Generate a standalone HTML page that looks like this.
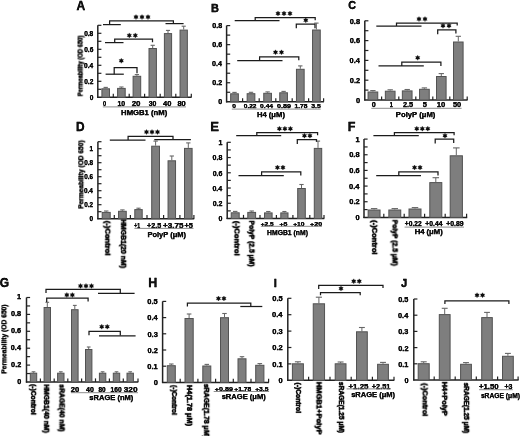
<!DOCTYPE html><html><head><meta charset="utf-8"><style>html,body{margin:0;padding:0;background:#fff;}text{filter:url(#bd);}#w{filter:grayscale(1);width:520px;height:436px;overflow:hidden;}svg{display:block;font-family:"Liberation Sans",sans-serif;font-weight:bold;fill:#111;}</style></head><body>
<div id="w">
<svg width="520" height="436" viewBox="0 0 520 436">
<defs><filter id="bd" x="-10%" y="-30%" width="120%" height="160%" color-interpolation-filters="sRGB"><feComponentTransfer><feFuncA type="linear" slope="1.25"/></feComponentTransfer></filter></defs>
<rect width="520" height="436" fill="#fff"/>
<line x1="97.8" y1="25.3" x2="97.8" y2="97.9" stroke="#222" stroke-width="1.5"/>
<line x1="97.2" y1="97.3" x2="191.6" y2="97.3" stroke="#222" stroke-width="1.5"/>
<line x1="97.8" y1="89.3" x2="101.4" y2="89.3" stroke="#222" stroke-width="1.2"/>
<line x1="97.8" y1="81.3" x2="101.4" y2="81.3" stroke="#222" stroke-width="1.2"/>
<line x1="97.8" y1="73.3" x2="101.4" y2="73.3" stroke="#222" stroke-width="1.2"/>
<line x1="97.8" y1="65.3" x2="101.4" y2="65.3" stroke="#222" stroke-width="1.2"/>
<line x1="97.8" y1="57.3" x2="101.4" y2="57.3" stroke="#222" stroke-width="1.2"/>
<line x1="97.8" y1="49.3" x2="101.4" y2="49.3" stroke="#222" stroke-width="1.2"/>
<line x1="97.8" y1="41.3" x2="101.4" y2="41.3" stroke="#222" stroke-width="1.2"/>
<line x1="97.8" y1="33.3" x2="101.4" y2="33.3" stroke="#222" stroke-width="1.2"/>
<line x1="97.8" y1="25.3" x2="101.4" y2="25.3" stroke="#222" stroke-width="1.2"/>
<line x1="113.3" y1="97.3" x2="113.3" y2="93.7" stroke="#222" stroke-width="1.2"/>
<line x1="129.2" y1="97.3" x2="129.2" y2="93.7" stroke="#222" stroke-width="1.2"/>
<line x1="144.6" y1="97.3" x2="144.6" y2="93.7" stroke="#222" stroke-width="1.2"/>
<line x1="160.2" y1="97.3" x2="160.2" y2="93.7" stroke="#222" stroke-width="1.2"/>
<line x1="175.8" y1="97.3" x2="175.8" y2="93.7" stroke="#222" stroke-width="1.2"/>
<line x1="191.3" y1="97.3" x2="191.3" y2="93.7" stroke="#222" stroke-width="1.2"/>
<text x="89.7" y="99.55" font-size="6.3" text-anchor="start" stroke="#111" stroke-width="0.25" textLength="3.64" lengthAdjust="spacingAndGlyphs">0</text>
<text x="84.23" y="83.55" font-size="6.3" text-anchor="start" stroke="#111" stroke-width="0.25" textLength="9.11" lengthAdjust="spacingAndGlyphs">0.2</text>
<text x="84" y="67.55" font-size="6.3" text-anchor="start" stroke="#111" stroke-width="0.25" textLength="9.11" lengthAdjust="spacingAndGlyphs">0.4</text>
<text x="84.2" y="51.55" font-size="6.3" text-anchor="start" stroke="#111" stroke-width="0.25" textLength="9.11" lengthAdjust="spacingAndGlyphs">0.6</text>
<text x="84.16" y="35.55" font-size="6.3" text-anchor="start" stroke="#111" stroke-width="0.25" textLength="9.11" lengthAdjust="spacingAndGlyphs">0.8</text>
<rect x="101.9" y="88.8" width="7.6" height="8.5" fill="#7e7e7e" stroke="#525252" stroke-width="1"/>
<line x1="105.7" y1="88.3" x2="105.7" y2="87.4" stroke="#666" stroke-width="1.0"/>
<line x1="103.55" y1="87.4" x2="107.85" y2="87.4" stroke="#666" stroke-width="1.1"/>
<rect x="117.6" y="88.4" width="7.6" height="8.9" fill="#7e7e7e" stroke="#525252" stroke-width="1"/>
<line x1="121.4" y1="87.9" x2="121.4" y2="87" stroke="#666" stroke-width="1.0"/>
<line x1="119.25" y1="87" x2="123.55" y2="87" stroke="#666" stroke-width="1.1"/>
<rect x="133.1" y="76.3" width="7.6" height="21" fill="#7e7e7e" stroke="#525252" stroke-width="1"/>
<line x1="136.9" y1="75.8" x2="136.9" y2="74.6" stroke="#666" stroke-width="1.0"/>
<line x1="134.75" y1="74.6" x2="139.05" y2="74.6" stroke="#666" stroke-width="1.1"/>
<rect x="149" y="48.5" width="7.4" height="48.8" fill="#7e7e7e" stroke="#525252" stroke-width="1"/>
<line x1="152.7" y1="48" x2="152.7" y2="45.3" stroke="#666" stroke-width="1.0"/>
<line x1="150.6" y1="45.3" x2="154.8" y2="45.3" stroke="#666" stroke-width="1.1"/>
<rect x="164.4" y="33.6" width="7.2" height="63.7" fill="#7e7e7e" stroke="#525252" stroke-width="1"/>
<line x1="168" y1="33.1" x2="168" y2="30.4" stroke="#666" stroke-width="1.0"/>
<line x1="165.95" y1="30.4" x2="170.05" y2="30.4" stroke="#666" stroke-width="1.1"/>
<rect x="180.05" y="30.1" width="7.3" height="67.2" fill="#7e7e7e" stroke="#525252" stroke-width="1"/>
<line x1="183.7" y1="29.6" x2="183.7" y2="26.2" stroke="#666" stroke-width="1.0"/>
<line x1="181.62" y1="26.2" x2="185.77" y2="26.2" stroke="#666" stroke-width="1.1"/>
<text x="102.9" y="106.22" font-size="7.21" text-anchor="start" stroke="#111" stroke-width="0.25" textLength="3.1" lengthAdjust="spacingAndGlyphs">0</text>
<text x="117.38" y="106.22" font-size="7.21" text-anchor="start" stroke="#111" stroke-width="0.25" textLength="7.69" lengthAdjust="spacingAndGlyphs">10</text>
<text x="131.65" y="106.22" font-size="7.21" text-anchor="start" stroke="#111" stroke-width="0.25" textLength="8.87" lengthAdjust="spacingAndGlyphs">20</text>
<text x="148.65" y="106.22" font-size="7.21" text-anchor="start" stroke="#111" stroke-width="0.25" textLength="7.72" lengthAdjust="spacingAndGlyphs">30</text>
<text x="163.01" y="106.22" font-size="7.21" text-anchor="start" stroke="#111" stroke-width="0.25" textLength="8.38" lengthAdjust="spacingAndGlyphs">40</text>
<text x="177.4" y="106.22" font-size="7.21" text-anchor="start" stroke="#111" stroke-width="0.25" textLength="8.4" lengthAdjust="spacingAndGlyphs">80</text>
<line x1="102.8" y1="106.9" x2="186" y2="106.9" stroke="#808080" stroke-width="0.9"/>
<text x="121.13" y="114.92" font-size="7.21" text-anchor="start" stroke="#111" stroke-width="0.25" textLength="46.13" lengthAdjust="spacingAndGlyphs">HMGB1 (nM)</text>
<text x="82.6" y="96.06" font-size="6.27" text-anchor="start" stroke="#111" stroke-width="0.25" transform="rotate(-90 82.6 96.06)" textLength="60.61" lengthAdjust="spacingAndGlyphs">Permeability (OD 650)</text>
<text x="76.42" y="9.9" font-size="12.03" text-anchor="start" stroke="#111" stroke-width="0.3">A</text>
<line x1="105.6" y1="74.2" x2="123.8" y2="74.2" stroke="#1b1b1b" stroke-width="1.25"/>
<polyline points="114.2,74.2 114.2,67.5 137,67.5 137,73.3" fill="none" stroke="#1b1b1b" stroke-width="1.25"/>
<polygon points="121.3,58.3 122.02,59.54 123.47,59.55 122.75,60.8 123.47,62.05 122.02,62.06 121.3,63.3 120.58,62.06 119.13,62.05 119.85,60.8 119.13,59.55 120.58,59.54" fill="#0c0c0c" stroke="#0c0c0c" stroke-width="0.3" stroke-linejoin="round"/>
<line x1="105" y1="42.6" x2="123.5" y2="42.6" stroke="#1b1b1b" stroke-width="1.25"/>
<polyline points="114.7,42.6 114.7,39.2 152.5,39.2 152.5,42.3" fill="none" stroke="#1b1b1b" stroke-width="1.25"/>
<polygon points="129.3,32.9 130.03,34.14 131.47,34.15 130.75,35.4 131.47,36.65 130.03,36.66 129.3,37.9 128.58,36.66 127.13,36.65 127.85,35.4 127.13,34.15 128.58,34.14" fill="#0c0c0c" stroke="#0c0c0c" stroke-width="0.3" stroke-linejoin="round"/>
<polygon points="135.3,32.9 136.03,34.14 137.47,34.15 136.75,35.4 137.47,36.65 136.03,36.66 135.3,37.9 134.58,36.66 133.13,36.65 133.85,35.4 133.13,34.15 134.58,34.14" fill="#0c0c0c" stroke="#0c0c0c" stroke-width="0.3" stroke-linejoin="round"/>
<line x1="103" y1="24.6" x2="120.8" y2="24.6" stroke="#1b1b1b" stroke-width="1.25"/>
<polyline points="109.6,24.6 109.6,20.9 173.4,20.9 173.4,23.6" fill="none" stroke="#1b1b1b" stroke-width="1.25"/>
<line x1="165.5" y1="23.6" x2="183.6" y2="23.6" stroke="#1b1b1b" stroke-width="1.25"/>
<polygon points="136,14.6 136.72,15.84 138.17,15.85 137.45,17.1 138.17,18.35 136.72,18.36 136,19.6 135.28,18.36 133.83,18.35 134.55,17.1 133.83,15.85 135.28,15.84" fill="#0c0c0c" stroke="#0c0c0c" stroke-width="0.3" stroke-linejoin="round"/>
<polygon points="142,14.6 142.72,15.84 144.17,15.85 143.45,17.1 144.17,18.35 142.72,18.36 142,19.6 141.28,18.36 139.83,18.35 140.55,17.1 139.83,15.85 141.28,15.84" fill="#0c0c0c" stroke="#0c0c0c" stroke-width="0.3" stroke-linejoin="round"/>
<polygon points="148,14.6 148.72,15.84 150.17,15.85 149.45,17.1 150.17,18.35 148.72,18.36 148,19.6 147.28,18.36 145.83,18.35 146.55,17.1 145.83,15.85 147.28,15.84" fill="#0c0c0c" stroke="#0c0c0c" stroke-width="0.3" stroke-linejoin="round"/>
<line x1="226.6" y1="25.6" x2="226.6" y2="102.4" stroke="#222" stroke-width="1.5"/>
<line x1="226" y1="101.8" x2="323.9" y2="101.8" stroke="#222" stroke-width="1.5"/>
<line x1="226.6" y1="92.27" x2="230.2" y2="92.27" stroke="#222" stroke-width="1.2"/>
<line x1="226.6" y1="82.75" x2="230.2" y2="82.75" stroke="#222" stroke-width="1.2"/>
<line x1="226.6" y1="73.22" x2="230.2" y2="73.22" stroke="#222" stroke-width="1.2"/>
<line x1="226.6" y1="63.7" x2="230.2" y2="63.7" stroke="#222" stroke-width="1.2"/>
<line x1="226.6" y1="54.17" x2="230.2" y2="54.17" stroke="#222" stroke-width="1.2"/>
<line x1="226.6" y1="44.65" x2="230.2" y2="44.65" stroke="#222" stroke-width="1.2"/>
<line x1="226.6" y1="35.12" x2="230.2" y2="35.12" stroke="#222" stroke-width="1.2"/>
<line x1="226.6" y1="25.6" x2="230.2" y2="25.6" stroke="#222" stroke-width="1.2"/>
<line x1="242.6" y1="101.8" x2="242.6" y2="98.2" stroke="#222" stroke-width="1.2"/>
<line x1="259.2" y1="101.8" x2="259.2" y2="98.2" stroke="#222" stroke-width="1.2"/>
<line x1="275.8" y1="101.8" x2="275.8" y2="98.2" stroke="#222" stroke-width="1.2"/>
<line x1="292.2" y1="101.8" x2="292.2" y2="98.2" stroke="#222" stroke-width="1.2"/>
<line x1="308.6" y1="101.8" x2="308.6" y2="98.2" stroke="#222" stroke-width="1.2"/>
<line x1="323.6" y1="101.8" x2="323.6" y2="98.2" stroke="#222" stroke-width="1.2"/>
<text x="218.23" y="104.34" font-size="6.7" text-anchor="start" stroke="#111" stroke-width="0.25" textLength="3.94" lengthAdjust="spacingAndGlyphs">0</text>
<text x="212.31" y="85.3" font-size="6.7" text-anchor="start" stroke="#111" stroke-width="0.25" textLength="9.85" lengthAdjust="spacingAndGlyphs">0.2</text>
<text x="212.06" y="66.24" font-size="6.7" text-anchor="start" stroke="#111" stroke-width="0.25" textLength="9.85" lengthAdjust="spacingAndGlyphs">0.4</text>
<text x="212.28" y="47.2" font-size="6.7" text-anchor="start" stroke="#111" stroke-width="0.25" textLength="9.85" lengthAdjust="spacingAndGlyphs">0.6</text>
<text x="212.24" y="28.14" font-size="6.7" text-anchor="start" stroke="#111" stroke-width="0.25" textLength="9.85" lengthAdjust="spacingAndGlyphs">0.8</text>
<rect x="230.65" y="93.8" width="7.7" height="8" fill="#7e7e7e" stroke="#525252" stroke-width="1"/>
<line x1="234.5" y1="93.3" x2="234.5" y2="92.4" stroke="#666" stroke-width="1.0"/>
<line x1="232.32" y1="92.4" x2="236.68" y2="92.4" stroke="#666" stroke-width="1.1"/>
<rect x="247.15" y="93.7" width="7.7" height="8.1" fill="#7e7e7e" stroke="#525252" stroke-width="1"/>
<line x1="251" y1="93.2" x2="251" y2="92.3" stroke="#666" stroke-width="1.0"/>
<line x1="248.82" y1="92.3" x2="253.18" y2="92.3" stroke="#666" stroke-width="1.1"/>
<rect x="263.75" y="93.3" width="7.7" height="8.5" fill="#7e7e7e" stroke="#525252" stroke-width="1"/>
<line x1="267.6" y1="92.8" x2="267.6" y2="91.9" stroke="#666" stroke-width="1.0"/>
<line x1="265.43" y1="91.9" x2="269.78" y2="91.9" stroke="#666" stroke-width="1.1"/>
<rect x="279.75" y="92.8" width="7.7" height="9" fill="#7e7e7e" stroke="#525252" stroke-width="1"/>
<line x1="283.6" y1="92.3" x2="283.6" y2="91.4" stroke="#666" stroke-width="1.0"/>
<line x1="281.43" y1="91.4" x2="285.78" y2="91.4" stroke="#666" stroke-width="1.1"/>
<rect x="296.45" y="69.3" width="7.7" height="32.5" fill="#7e7e7e" stroke="#525252" stroke-width="1"/>
<line x1="300.3" y1="68.8" x2="300.3" y2="65.9" stroke="#666" stroke-width="1.0"/>
<line x1="298.12" y1="65.9" x2="302.48" y2="65.9" stroke="#666" stroke-width="1.1"/>
<rect x="312.55" y="30" width="7.7" height="71.8" fill="#7e7e7e" stroke="#525252" stroke-width="1"/>
<line x1="316.4" y1="29.5" x2="316.4" y2="23.1" stroke="#666" stroke-width="1.0"/>
<line x1="314.22" y1="23.1" x2="318.57" y2="23.1" stroke="#666" stroke-width="1.1"/>
<text x="232.16" y="108.42" font-size="6.07" text-anchor="start" stroke="#111" stroke-width="0.25" textLength="3.69" lengthAdjust="spacingAndGlyphs">0</text>
<text x="243.76" y="108.42" font-size="6.07" text-anchor="start" stroke="#111" stroke-width="0.25" textLength="12.78" lengthAdjust="spacingAndGlyphs">0.22</text>
<text x="260.06" y="108.42" font-size="6.07" text-anchor="start" stroke="#111" stroke-width="0.25" textLength="13.06" lengthAdjust="spacingAndGlyphs">0.44</text>
<text x="277.14" y="108.42" font-size="6.07" text-anchor="start" stroke="#111" stroke-width="0.25" textLength="14" lengthAdjust="spacingAndGlyphs">0.89</text>
<text x="294.49" y="108.42" font-size="6.07" text-anchor="start" stroke="#111" stroke-width="0.25" textLength="12.99" lengthAdjust="spacingAndGlyphs">1.78</text>
<text x="311.15" y="108.42" font-size="6.07" text-anchor="start" stroke="#111" stroke-width="0.25" textLength="9.6" lengthAdjust="spacingAndGlyphs">3.5</text>
<line x1="231.8" y1="109.1" x2="320.7" y2="109.1" stroke="#808080" stroke-width="0.9"/>
<text x="256.93" y="116.92" font-size="7.21" text-anchor="start" stroke="#111" stroke-width="0.25" textLength="28.01" lengthAdjust="spacingAndGlyphs">H4 (μM)</text>
<text x="211.02" y="12.2" font-size="11.01" text-anchor="start" stroke="#111" stroke-width="0.3">B</text>
<line x1="237.2" y1="60.5" x2="282.5" y2="60.5" stroke="#1b1b1b" stroke-width="1.25"/>
<polyline points="259.6,60.5 259.6,56.8 298.8,56.8 298.8,60.2" fill="none" stroke="#1b1b1b" stroke-width="1.25"/>
<polygon points="275.5,49.8 276.23,51.04 277.67,51.05 276.95,52.3 277.67,53.55 276.23,53.56 275.5,54.8 274.77,53.56 273.33,53.55 274.05,52.3 273.33,51.05 274.77,51.04" fill="#0c0c0c" stroke="#0c0c0c" stroke-width="0.3" stroke-linejoin="round"/>
<polygon points="281.5,49.8 282.23,51.04 283.67,51.05 282.95,52.3 283.67,53.55 282.23,53.56 281.5,54.8 280.77,53.56 279.33,53.55 280.05,52.3 279.33,51.05 280.77,51.04" fill="#0c0c0c" stroke="#0c0c0c" stroke-width="0.3" stroke-linejoin="round"/>
<line x1="234.7" y1="20.6" x2="279.5" y2="20.6" stroke="#1b1b1b" stroke-width="1.25"/>
<polyline points="255.2,20.6 255.2,17.5 315.2,17.5 315.2,20.2" fill="none" stroke="#1b1b1b" stroke-width="1.25"/>
<polygon points="278,11 278.73,12.24 280.17,12.25 279.45,13.5 280.17,14.75 278.73,14.76 278,16 277.27,14.76 275.83,14.75 276.55,13.5 275.83,12.25 277.27,12.24" fill="#0c0c0c" stroke="#0c0c0c" stroke-width="0.3" stroke-linejoin="round"/>
<polygon points="284,11 284.73,12.24 286.17,12.25 285.45,13.5 286.17,14.75 284.73,14.76 284,16 283.27,14.76 281.83,14.75 282.55,13.5 281.83,12.25 283.27,12.24" fill="#0c0c0c" stroke="#0c0c0c" stroke-width="0.3" stroke-linejoin="round"/>
<polygon points="290,11 290.73,12.24 292.17,12.25 291.45,13.5 292.17,14.75 290.73,14.76 290,16 289.27,14.76 287.83,14.75 288.55,13.5 287.83,12.25 289.27,12.24" fill="#0c0c0c" stroke="#0c0c0c" stroke-width="0.3" stroke-linejoin="round"/>
<polyline points="296.3,28.3 296.3,24.2 315,24.2 315,28.3" fill="none" stroke="#1b1b1b" stroke-width="1.25"/>
<polygon points="305.8,17.8 306.53,19.04 307.97,19.05 307.25,20.3 307.97,21.55 306.53,21.56 305.8,22.8 305.07,21.56 303.63,21.55 304.35,20.3 303.63,19.05 305.07,19.04" fill="#0c0c0c" stroke="#0c0c0c" stroke-width="0.3" stroke-linejoin="round"/>
<line x1="364.8" y1="20.8" x2="364.8" y2="100.6" stroke="#222" stroke-width="1.5"/>
<line x1="364.2" y1="100" x2="467.6" y2="100" stroke="#222" stroke-width="1.5"/>
<line x1="364.8" y1="90.1" x2="368.4" y2="90.1" stroke="#222" stroke-width="1.2"/>
<line x1="364.8" y1="80.2" x2="368.4" y2="80.2" stroke="#222" stroke-width="1.2"/>
<line x1="364.8" y1="70.3" x2="368.4" y2="70.3" stroke="#222" stroke-width="1.2"/>
<line x1="364.8" y1="60.4" x2="368.4" y2="60.4" stroke="#222" stroke-width="1.2"/>
<line x1="364.8" y1="50.5" x2="368.4" y2="50.5" stroke="#222" stroke-width="1.2"/>
<line x1="364.8" y1="40.6" x2="368.4" y2="40.6" stroke="#222" stroke-width="1.2"/>
<line x1="364.8" y1="30.7" x2="368.4" y2="30.7" stroke="#222" stroke-width="1.2"/>
<line x1="364.8" y1="20.8" x2="368.4" y2="20.8" stroke="#222" stroke-width="1.2"/>
<line x1="381.6" y1="100" x2="381.6" y2="96.4" stroke="#222" stroke-width="1.2"/>
<line x1="398.8" y1="100" x2="398.8" y2="96.4" stroke="#222" stroke-width="1.2"/>
<line x1="415.8" y1="100" x2="415.8" y2="96.4" stroke="#222" stroke-width="1.2"/>
<line x1="432.8" y1="100" x2="432.8" y2="96.4" stroke="#222" stroke-width="1.2"/>
<line x1="449.8" y1="100" x2="449.8" y2="96.4" stroke="#222" stroke-width="1.2"/>
<line x1="467.2" y1="100" x2="467.2" y2="96.4" stroke="#222" stroke-width="1.2"/>
<text x="355.97" y="102.75" font-size="6.7" text-anchor="start" stroke="#111" stroke-width="0.25" textLength="4.11" lengthAdjust="spacingAndGlyphs">0</text>
<text x="349.8" y="82.95" font-size="6.7" text-anchor="start" stroke="#111" stroke-width="0.25" textLength="10.27" lengthAdjust="spacingAndGlyphs">0.2</text>
<text x="349.54" y="63.14" font-size="6.7" text-anchor="start" stroke="#111" stroke-width="0.25" textLength="10.27" lengthAdjust="spacingAndGlyphs">0.4</text>
<text x="349.77" y="43.34" font-size="6.7" text-anchor="start" stroke="#111" stroke-width="0.25" textLength="10.27" lengthAdjust="spacingAndGlyphs">0.6</text>
<text x="349.73" y="23.54" font-size="6.7" text-anchor="start" stroke="#111" stroke-width="0.25" textLength="10.27" lengthAdjust="spacingAndGlyphs">0.8</text>
<rect x="368.05" y="92" width="9.7" height="8" fill="#7e7e7e" stroke="#525252" stroke-width="1"/>
<line x1="372.9" y1="91.5" x2="372.9" y2="90.6" stroke="#666" stroke-width="1.0"/>
<line x1="370.22" y1="90.6" x2="375.57" y2="90.6" stroke="#666" stroke-width="1.1"/>
<rect x="385.35" y="91.2" width="9.7" height="8.8" fill="#7e7e7e" stroke="#525252" stroke-width="1"/>
<line x1="390.2" y1="90.7" x2="390.2" y2="89.8" stroke="#666" stroke-width="1.0"/>
<line x1="387.52" y1="89.8" x2="392.88" y2="89.8" stroke="#666" stroke-width="1.1"/>
<rect x="402.35" y="90.9" width="9.7" height="9.1" fill="#7e7e7e" stroke="#525252" stroke-width="1"/>
<line x1="407.2" y1="90.4" x2="407.2" y2="89.5" stroke="#666" stroke-width="1.0"/>
<line x1="404.52" y1="89.5" x2="409.88" y2="89.5" stroke="#666" stroke-width="1.1"/>
<rect x="419.55" y="89.3" width="9.7" height="10.7" fill="#7e7e7e" stroke="#525252" stroke-width="1"/>
<line x1="424.4" y1="88.8" x2="424.4" y2="87.9" stroke="#666" stroke-width="1.0"/>
<line x1="421.72" y1="87.9" x2="427.07" y2="87.9" stroke="#666" stroke-width="1.1"/>
<rect x="436.5" y="76.5" width="9.6" height="23.5" fill="#7e7e7e" stroke="#525252" stroke-width="1"/>
<line x1="441.3" y1="76" x2="441.3" y2="73.6" stroke="#666" stroke-width="1.0"/>
<line x1="438.65" y1="73.6" x2="443.95" y2="73.6" stroke="#666" stroke-width="1.1"/>
<rect x="453.5" y="42" width="9.6" height="58" fill="#7e7e7e" stroke="#525252" stroke-width="1"/>
<line x1="458.3" y1="41.5" x2="458.3" y2="36.3" stroke="#666" stroke-width="1.0"/>
<line x1="455.65" y1="36.3" x2="460.95" y2="36.3" stroke="#666" stroke-width="1.1"/>
<text x="371.73" y="107.12" font-size="7.21" text-anchor="start" stroke="#111" stroke-width="0.25" textLength="4.04" lengthAdjust="spacingAndGlyphs">0</text>
<text x="389.67" y="107.12" font-size="7.21" text-anchor="start" stroke="#111" stroke-width="0.25" textLength="3.05" lengthAdjust="spacingAndGlyphs">1</text>
<text x="402.97" y="107.12" font-size="7.21" text-anchor="start" stroke="#111" stroke-width="0.25" textLength="10.19" lengthAdjust="spacingAndGlyphs">2.5</text>
<text x="422.8" y="107.12" font-size="7.21" text-anchor="start" stroke="#111" stroke-width="0.25" textLength="4.17" lengthAdjust="spacingAndGlyphs">5</text>
<text x="436.82" y="107.12" font-size="7.21" text-anchor="start" stroke="#111" stroke-width="0.25" textLength="8.58" lengthAdjust="spacingAndGlyphs">10</text>
<text x="453" y="107.12" font-size="7.21" text-anchor="start" stroke="#111" stroke-width="0.25" textLength="8.18" lengthAdjust="spacingAndGlyphs">50</text>
<line x1="371.3" y1="108.3" x2="461.6" y2="108.3" stroke="#808080" stroke-width="0.9"/>
<text x="395.83" y="116.62" font-size="7.07" text-anchor="start" stroke="#111" stroke-width="0.25" textLength="39.53" lengthAdjust="spacingAndGlyphs">PolyP (μM)</text>
<text x="348.16" y="9.3" font-size="10.72" text-anchor="start" stroke="#111" stroke-width="0.3">C</text>
<line x1="378.5" y1="65.9" x2="423.8" y2="65.9" stroke="#1b1b1b" stroke-width="1.25"/>
<polyline points="401.8,65.9 401.8,62.2 440.9,62.2 440.9,65.9" fill="none" stroke="#1b1b1b" stroke-width="1.25"/>
<polygon points="417.7,55.3 418.43,56.54 419.87,56.55 419.15,57.8 419.87,59.05 418.43,59.06 417.7,60.3 416.97,59.06 415.53,59.05 416.25,57.8 415.53,56.55 416.97,56.54" fill="#0c0c0c" stroke="#0c0c0c" stroke-width="0.3" stroke-linejoin="round"/>
<line x1="376.3" y1="26.1" x2="421.5" y2="26.1" stroke="#1b1b1b" stroke-width="1.25"/>
<polyline points="396.5,26.1 396.5,23.1 457.2,23.1 457.2,25.6" fill="none" stroke="#1b1b1b" stroke-width="1.25"/>
<polygon points="419,16.6 419.73,17.84 421.17,17.85 420.45,19.1 421.17,20.35 419.73,20.36 419,21.6 418.27,20.36 416.83,20.35 417.55,19.1 416.83,17.85 418.27,17.84" fill="#0c0c0c" stroke="#0c0c0c" stroke-width="0.3" stroke-linejoin="round"/>
<polygon points="425,16.6 425.73,17.84 427.17,17.85 426.45,19.1 427.17,20.35 425.73,20.36 425,21.6 424.27,20.36 422.83,20.35 423.55,19.1 422.83,17.85 424.27,17.84" fill="#0c0c0c" stroke="#0c0c0c" stroke-width="0.3" stroke-linejoin="round"/>
<polyline points="437.7,34.3 437.7,29.9 455.9,29.9 455.9,33.6" fill="none" stroke="#1b1b1b" stroke-width="1.25"/>
<polygon points="443,23.3 443.73,24.54 445.17,24.55 444.45,25.8 445.17,27.05 443.73,27.06 443,28.3 442.27,27.06 440.83,27.05 441.55,25.8 440.83,24.55 442.27,24.54" fill="#0c0c0c" stroke="#0c0c0c" stroke-width="0.3" stroke-linejoin="round"/>
<polygon points="449,23.3 449.73,24.54 451.17,24.55 450.45,25.8 451.17,27.05 449.73,27.06 449,28.3 448.27,27.06 446.83,27.05 447.55,25.8 446.83,24.55 448.27,24.54" fill="#0c0c0c" stroke="#0c0c0c" stroke-width="0.3" stroke-linejoin="round"/>
<line x1="97.9" y1="141.7" x2="97.9" y2="219.3" stroke="#222" stroke-width="1.5"/>
<line x1="97.3" y1="218.7" x2="194.2" y2="218.7" stroke="#222" stroke-width="1.5"/>
<line x1="97.9" y1="211.7" x2="101.5" y2="211.7" stroke="#222" stroke-width="1.2"/>
<line x1="97.9" y1="204.7" x2="101.5" y2="204.7" stroke="#222" stroke-width="1.2"/>
<line x1="97.9" y1="197.7" x2="101.5" y2="197.7" stroke="#222" stroke-width="1.2"/>
<line x1="97.9" y1="190.7" x2="101.5" y2="190.7" stroke="#222" stroke-width="1.2"/>
<line x1="97.9" y1="183.7" x2="101.5" y2="183.7" stroke="#222" stroke-width="1.2"/>
<line x1="97.9" y1="176.7" x2="101.5" y2="176.7" stroke="#222" stroke-width="1.2"/>
<line x1="97.9" y1="169.7" x2="101.5" y2="169.7" stroke="#222" stroke-width="1.2"/>
<line x1="97.9" y1="162.7" x2="101.5" y2="162.7" stroke="#222" stroke-width="1.2"/>
<line x1="97.9" y1="155.7" x2="101.5" y2="155.7" stroke="#222" stroke-width="1.2"/>
<line x1="97.9" y1="148.7" x2="101.5" y2="148.7" stroke="#222" stroke-width="1.2"/>
<line x1="97.9" y1="141.7" x2="101.5" y2="141.7" stroke="#222" stroke-width="1.2"/>
<line x1="114.3" y1="218.7" x2="114.3" y2="215.1" stroke="#222" stroke-width="1.2"/>
<line x1="130.4" y1="218.7" x2="130.4" y2="215.1" stroke="#222" stroke-width="1.2"/>
<line x1="147" y1="218.7" x2="147" y2="215.1" stroke="#222" stroke-width="1.2"/>
<line x1="163.6" y1="218.7" x2="163.6" y2="215.1" stroke="#222" stroke-width="1.2"/>
<line x1="179.9" y1="218.7" x2="179.9" y2="215.1" stroke="#222" stroke-width="1.2"/>
<line x1="193.9" y1="218.7" x2="193.9" y2="215.1" stroke="#222" stroke-width="1.2"/>
<text x="89.58" y="221.12" font-size="7.2" text-anchor="start" stroke="#111" stroke-width="0.25" textLength="3.56" lengthAdjust="spacingAndGlyphs">0</text>
<text x="84.23" y="207.12" font-size="7.2" text-anchor="start" stroke="#111" stroke-width="0.25" textLength="8.9" lengthAdjust="spacingAndGlyphs">0.2</text>
<text x="84.01" y="193.12" font-size="7.2" text-anchor="start" stroke="#111" stroke-width="0.25" textLength="8.9" lengthAdjust="spacingAndGlyphs">0.4</text>
<text x="84.2" y="179.12" font-size="7.2" text-anchor="start" stroke="#111" stroke-width="0.25" textLength="8.9" lengthAdjust="spacingAndGlyphs">0.6</text>
<text x="84.17" y="165.12" font-size="7.2" text-anchor="start" stroke="#111" stroke-width="0.25" textLength="8.9" lengthAdjust="spacingAndGlyphs">0.8</text>
<text x="89.48" y="151.12" font-size="7.2" text-anchor="start" stroke="#111" stroke-width="0.25" textLength="3.56" lengthAdjust="spacingAndGlyphs">1</text>
<rect x="102.2" y="212.4" width="8" height="6.3" fill="#7e7e7e" stroke="#525252" stroke-width="1"/>
<line x1="106.2" y1="211.9" x2="106.2" y2="211" stroke="#666" stroke-width="1.0"/>
<line x1="103.95" y1="211" x2="108.45" y2="211" stroke="#666" stroke-width="1.1"/>
<rect x="118.55" y="211.3" width="7.7" height="7.4" fill="#7e7e7e" stroke="#525252" stroke-width="1"/>
<line x1="122.4" y1="210.8" x2="122.4" y2="209.9" stroke="#666" stroke-width="1.0"/>
<line x1="120.23" y1="209.9" x2="124.58" y2="209.9" stroke="#666" stroke-width="1.1"/>
<rect x="134.8" y="209.6" width="7.4" height="9.1" fill="#7e7e7e" stroke="#525252" stroke-width="1"/>
<line x1="138.5" y1="209.1" x2="138.5" y2="208.2" stroke="#666" stroke-width="1.0"/>
<line x1="136.4" y1="208.2" x2="140.6" y2="208.2" stroke="#666" stroke-width="1.1"/>
<rect x="151.7" y="146.2" width="7.8" height="72.5" fill="#7e7e7e" stroke="#525252" stroke-width="1"/>
<line x1="155.6" y1="145.7" x2="155.6" y2="141.1" stroke="#666" stroke-width="1.0"/>
<line x1="153.4" y1="141.1" x2="157.8" y2="141.1" stroke="#666" stroke-width="1.1"/>
<rect x="168.05" y="160.8" width="7.5" height="57.9" fill="#7e7e7e" stroke="#525252" stroke-width="1"/>
<line x1="171.8" y1="160.3" x2="171.8" y2="156" stroke="#666" stroke-width="1.0"/>
<line x1="169.68" y1="156" x2="173.93" y2="156" stroke="#666" stroke-width="1.1"/>
<rect x="184.5" y="148.4" width="7.6" height="70.3" fill="#7e7e7e" stroke="#525252" stroke-width="1"/>
<line x1="188.3" y1="147.9" x2="188.3" y2="142.9" stroke="#666" stroke-width="1.0"/>
<line x1="186.15" y1="142.9" x2="190.45" y2="142.9" stroke="#666" stroke-width="1.1"/>
<text x="105.5" y="220.82" font-size="7.4" text-anchor="start" stroke="#111" stroke-width="0.4" transform="rotate(90 105.5 220.82)" textLength="34.85" lengthAdjust="spacingAndGlyphs">(-)Control</text>
<text x="120.9" y="219.25" font-size="7.4" text-anchor="start" stroke="#111" stroke-width="0.4" transform="rotate(90 120.9 219.25)" textLength="48.87" lengthAdjust="spacingAndGlyphs">HMGB1(20 nM)</text>
<text x="134.32" y="227.62" font-size="6.64" text-anchor="start" stroke="#111" stroke-width="0.25" textLength="5.89" lengthAdjust="spacingAndGlyphs">+1</text>
<text x="146.94" y="227.62" font-size="6.64" text-anchor="start" stroke="#111" stroke-width="0.25" textLength="14.21" lengthAdjust="spacingAndGlyphs">+2.5</text>
<text x="163" y="227.62" font-size="6.64" text-anchor="start" stroke="#111" stroke-width="0.25" textLength="20.38" lengthAdjust="spacingAndGlyphs">+3.75</text>
<text x="184.43" y="227.62" font-size="6.64" text-anchor="start" stroke="#111" stroke-width="0.25" textLength="8.43" lengthAdjust="spacingAndGlyphs">+5</text>
<line x1="134.4" y1="228.4" x2="193.5" y2="228.4" stroke="#808080" stroke-width="0.9"/>
<text x="147.44" y="237.12" font-size="7.5" text-anchor="start" stroke="#111" stroke-width="0.25" textLength="38.61" lengthAdjust="spacingAndGlyphs">PolyP (μM)</text>
<text x="83" y="208.71" font-size="6.85" text-anchor="start" stroke="#111" stroke-width="0.25" transform="rotate(-90 83 208.71)" textLength="68.39" lengthAdjust="spacingAndGlyphs">Permeability (OD 650)</text>
<text x="76.07" y="131.1" font-size="11.88" text-anchor="start" stroke="#111" stroke-width="0.3">D</text>
<line x1="109.8" y1="140" x2="145.5" y2="140" stroke="#1b1b1b" stroke-width="1.25"/>
<polyline points="128.1,140 128.1,136.3 173,136.3 173,139.4" fill="none" stroke="#1b1b1b" stroke-width="1.25"/>
<line x1="154.3" y1="139.6" x2="190.9" y2="139.6" stroke="#1b1b1b" stroke-width="1.25"/>
<polygon points="146.5,129.5 147.22,130.74 148.67,130.75 147.95,132 148.67,133.25 147.22,133.26 146.5,134.5 145.78,133.26 144.33,133.25 145.05,132 144.33,130.75 145.78,130.74" fill="#0c0c0c" stroke="#0c0c0c" stroke-width="0.3" stroke-linejoin="round"/>
<polygon points="152,129.5 152.72,130.74 154.17,130.75 153.45,132 154.17,133.25 152.72,133.26 152,134.5 151.28,133.26 149.83,133.25 150.55,132 149.83,130.75 151.28,130.74" fill="#0c0c0c" stroke="#0c0c0c" stroke-width="0.3" stroke-linejoin="round"/>
<polygon points="157.5,129.5 158.22,130.74 159.67,130.75 158.95,132 159.67,133.25 158.22,133.26 157.5,134.5 156.78,133.26 155.33,133.25 156.05,132 155.33,130.75 156.78,130.74" fill="#0c0c0c" stroke="#0c0c0c" stroke-width="0.3" stroke-linejoin="round"/>
<line x1="227.2" y1="142.3" x2="227.2" y2="219.1" stroke="#222" stroke-width="1.5"/>
<line x1="226.6" y1="218.5" x2="324.3" y2="218.5" stroke="#222" stroke-width="1.5"/>
<line x1="227.2" y1="210.88" x2="230.8" y2="210.88" stroke="#222" stroke-width="1.2"/>
<line x1="227.2" y1="203.26" x2="230.8" y2="203.26" stroke="#222" stroke-width="1.2"/>
<line x1="227.2" y1="195.64" x2="230.8" y2="195.64" stroke="#222" stroke-width="1.2"/>
<line x1="227.2" y1="188.02" x2="230.8" y2="188.02" stroke="#222" stroke-width="1.2"/>
<line x1="227.2" y1="180.4" x2="230.8" y2="180.4" stroke="#222" stroke-width="1.2"/>
<line x1="227.2" y1="172.78" x2="230.8" y2="172.78" stroke="#222" stroke-width="1.2"/>
<line x1="227.2" y1="165.16" x2="230.8" y2="165.16" stroke="#222" stroke-width="1.2"/>
<line x1="227.2" y1="157.54" x2="230.8" y2="157.54" stroke="#222" stroke-width="1.2"/>
<line x1="227.2" y1="149.92" x2="230.8" y2="149.92" stroke="#222" stroke-width="1.2"/>
<line x1="227.2" y1="142.3" x2="230.8" y2="142.3" stroke="#222" stroke-width="1.2"/>
<line x1="243.5" y1="218.5" x2="243.5" y2="214.9" stroke="#222" stroke-width="1.2"/>
<line x1="260" y1="218.5" x2="260" y2="214.9" stroke="#222" stroke-width="1.2"/>
<line x1="276.4" y1="218.5" x2="276.4" y2="214.9" stroke="#222" stroke-width="1.2"/>
<line x1="292.9" y1="218.5" x2="292.9" y2="214.9" stroke="#222" stroke-width="1.2"/>
<line x1="309.8" y1="218.5" x2="309.8" y2="214.9" stroke="#222" stroke-width="1.2"/>
<line x1="324" y1="218.5" x2="324" y2="214.9" stroke="#222" stroke-width="1.2"/>
<text x="218.57" y="221.23" font-size="6.8" text-anchor="start" stroke="#111" stroke-width="0.25" textLength="3.9" lengthAdjust="spacingAndGlyphs">0</text>
<text x="212.71" y="205.99" font-size="6.8" text-anchor="start" stroke="#111" stroke-width="0.25" textLength="9.74" lengthAdjust="spacingAndGlyphs">0.2</text>
<text x="212.47" y="190.75" font-size="6.8" text-anchor="start" stroke="#111" stroke-width="0.25" textLength="9.74" lengthAdjust="spacingAndGlyphs">0.4</text>
<text x="212.68" y="175.51" font-size="6.8" text-anchor="start" stroke="#111" stroke-width="0.25" textLength="9.74" lengthAdjust="spacingAndGlyphs">0.6</text>
<text x="212.64" y="160.27" font-size="6.8" text-anchor="start" stroke="#111" stroke-width="0.25" textLength="9.74" lengthAdjust="spacingAndGlyphs">0.8</text>
<text x="218.46" y="145.03" font-size="6.8" text-anchor="start" stroke="#111" stroke-width="0.25" textLength="3.9" lengthAdjust="spacingAndGlyphs">1</text>
<rect x="231.2" y="212.8" width="8" height="5.7" fill="#7e7e7e" stroke="#525252" stroke-width="1"/>
<line x1="235.2" y1="212.3" x2="235.2" y2="211.4" stroke="#666" stroke-width="1.0"/>
<line x1="232.95" y1="211.4" x2="237.45" y2="211.4" stroke="#666" stroke-width="1.1"/>
<rect x="247.8" y="212.4" width="7.8" height="6.1" fill="#7e7e7e" stroke="#525252" stroke-width="1"/>
<line x1="251.7" y1="211.9" x2="251.7" y2="211" stroke="#666" stroke-width="1.0"/>
<line x1="249.5" y1="211" x2="253.9" y2="211" stroke="#666" stroke-width="1.1"/>
<rect x="264.5" y="212.9" width="7.6" height="5.6" fill="#7e7e7e" stroke="#525252" stroke-width="1"/>
<line x1="268.3" y1="212.4" x2="268.3" y2="211.5" stroke="#666" stroke-width="1.0"/>
<line x1="266.15" y1="211.5" x2="270.45" y2="211.5" stroke="#666" stroke-width="1.1"/>
<rect x="280.8" y="212.9" width="7.2" height="5.6" fill="#7e7e7e" stroke="#525252" stroke-width="1"/>
<line x1="284.4" y1="212.4" x2="284.4" y2="211.5" stroke="#666" stroke-width="1.0"/>
<line x1="282.35" y1="211.5" x2="286.45" y2="211.5" stroke="#666" stroke-width="1.1"/>
<rect x="297.7" y="188.5" width="7.6" height="30" fill="#7e7e7e" stroke="#525252" stroke-width="1"/>
<line x1="301.5" y1="188" x2="301.5" y2="184.5" stroke="#666" stroke-width="1.0"/>
<line x1="299.35" y1="184.5" x2="303.65" y2="184.5" stroke="#666" stroke-width="1.1"/>
<rect x="314.3" y="148.4" width="7.4" height="70.1" fill="#7e7e7e" stroke="#525252" stroke-width="1"/>
<line x1="318" y1="147.9" x2="318" y2="141.1" stroke="#666" stroke-width="1.0"/>
<line x1="315.9" y1="141.1" x2="320.1" y2="141.1" stroke="#666" stroke-width="1.1"/>
<text x="234.7" y="220.82" font-size="7.4" text-anchor="start" stroke="#111" stroke-width="0.4" transform="rotate(90 234.7 220.82)" textLength="34.85" lengthAdjust="spacingAndGlyphs">(-)Control</text>
<text x="249.6" y="220.76" font-size="7.4" text-anchor="start" stroke="#111" stroke-width="0.4" transform="rotate(90 249.6 220.76)" textLength="45.86" lengthAdjust="spacingAndGlyphs">PolyP (2.5 μM)</text>
<text x="260.76" y="225.72" font-size="5.93" text-anchor="start" stroke="#111" stroke-width="0.25" textLength="12.97" lengthAdjust="spacingAndGlyphs">+2.5</text>
<text x="279.44" y="225.72" font-size="5.93" text-anchor="start" stroke="#111" stroke-width="0.25" textLength="8.01" lengthAdjust="spacingAndGlyphs">+5</text>
<text x="293.16" y="225.72" font-size="5.93" text-anchor="start" stroke="#111" stroke-width="0.25" textLength="11.4" lengthAdjust="spacingAndGlyphs">+10</text>
<text x="310.14" y="225.72" font-size="5.93" text-anchor="start" stroke="#111" stroke-width="0.25" textLength="12.03" lengthAdjust="spacingAndGlyphs">+20</text>
<line x1="260.9" y1="226.3" x2="322" y2="226.3" stroke="#808080" stroke-width="0.9"/>
<text x="267.08" y="235.43" font-size="7.36" text-anchor="start" stroke="#111" stroke-width="0.25" textLength="40.83" lengthAdjust="spacingAndGlyphs">HMGB1 (nM)</text>
<text x="210.17" y="131.1" font-size="13.04" text-anchor="start" stroke="#111" stroke-width="0.3">E</text>
<line x1="238.5" y1="175.6" x2="283.8" y2="175.6" stroke="#1b1b1b" stroke-width="1.25"/>
<polyline points="261.6,175.6 261.6,171.9 300.8,171.9 300.8,175.6" fill="none" stroke="#1b1b1b" stroke-width="1.25"/>
<polygon points="277.45,165 278.18,166.24 279.62,166.25 278.9,167.5 279.62,168.75 278.18,168.76 277.45,170 276.72,168.76 275.28,168.75 276,167.5 275.28,166.25 276.72,166.24" fill="#0c0c0c" stroke="#0c0c0c" stroke-width="0.3" stroke-linejoin="round"/>
<polygon points="282.95,165 283.68,166.24 285.12,166.25 284.4,167.5 285.12,168.75 283.68,168.76 282.95,170 282.22,168.76 280.78,168.75 281.5,167.5 280.78,166.25 282.22,166.24" fill="#0c0c0c" stroke="#0c0c0c" stroke-width="0.3" stroke-linejoin="round"/>
<line x1="236.2" y1="135.6" x2="281.2" y2="135.6" stroke="#1b1b1b" stroke-width="1.25"/>
<polyline points="256.8,135.6 256.8,132.5 317.6,132.5 317.6,135.2" fill="none" stroke="#1b1b1b" stroke-width="1.25"/>
<polygon points="279.4,126.2 280.12,127.44 281.57,127.45 280.85,128.7 281.57,129.95 280.12,129.96 279.4,131.2 278.67,129.96 277.23,129.95 277.95,128.7 277.23,127.45 278.67,127.44" fill="#0c0c0c" stroke="#0c0c0c" stroke-width="0.3" stroke-linejoin="round"/>
<polygon points="284.9,126.2 285.62,127.44 287.07,127.45 286.35,128.7 287.07,129.95 285.62,129.96 284.9,131.2 284.17,129.96 282.73,129.95 283.45,128.7 282.73,127.45 284.17,127.44" fill="#0c0c0c" stroke="#0c0c0c" stroke-width="0.3" stroke-linejoin="round"/>
<polygon points="290.4,126.2 291.12,127.44 292.57,127.45 291.85,128.7 292.57,129.95 291.12,129.96 290.4,131.2 289.67,129.96 288.23,129.95 288.95,128.7 288.23,127.45 289.67,127.44" fill="#0c0c0c" stroke="#0c0c0c" stroke-width="0.3" stroke-linejoin="round"/>
<polyline points="297.3,144 297.3,139.6 316.5,139.6 316.5,141.8" fill="none" stroke="#1b1b1b" stroke-width="1.25"/>
<polygon points="304.45,133.2 305.18,134.44 306.62,134.45 305.9,135.7 306.62,136.95 305.18,136.96 304.45,138.2 303.72,136.96 302.28,136.95 303,135.7 302.28,134.45 303.72,134.44" fill="#0c0c0c" stroke="#0c0c0c" stroke-width="0.3" stroke-linejoin="round"/>
<polygon points="309.95,133.2 310.68,134.44 312.12,134.45 311.4,135.7 312.12,136.95 310.68,136.96 309.95,138.2 309.22,136.96 307.78,136.95 308.5,135.7 307.78,134.45 309.22,134.44" fill="#0c0c0c" stroke="#0c0c0c" stroke-width="0.3" stroke-linejoin="round"/>
<line x1="364" y1="139.1" x2="364" y2="218" stroke="#222" stroke-width="1.5"/>
<line x1="363.4" y1="217.4" x2="467.2" y2="217.4" stroke="#222" stroke-width="1.5"/>
<line x1="364" y1="209.57" x2="367.6" y2="209.57" stroke="#222" stroke-width="1.2"/>
<line x1="364" y1="201.74" x2="367.6" y2="201.74" stroke="#222" stroke-width="1.2"/>
<line x1="364" y1="193.91" x2="367.6" y2="193.91" stroke="#222" stroke-width="1.2"/>
<line x1="364" y1="186.08" x2="367.6" y2="186.08" stroke="#222" stroke-width="1.2"/>
<line x1="364" y1="178.25" x2="367.6" y2="178.25" stroke="#222" stroke-width="1.2"/>
<line x1="364" y1="170.42" x2="367.6" y2="170.42" stroke="#222" stroke-width="1.2"/>
<line x1="364" y1="162.59" x2="367.6" y2="162.59" stroke="#222" stroke-width="1.2"/>
<line x1="364" y1="154.76" x2="367.6" y2="154.76" stroke="#222" stroke-width="1.2"/>
<line x1="364" y1="146.93" x2="367.6" y2="146.93" stroke="#222" stroke-width="1.2"/>
<line x1="364" y1="139.1" x2="367.6" y2="139.1" stroke="#222" stroke-width="1.2"/>
<line x1="383.8" y1="217.4" x2="383.8" y2="213.8" stroke="#222" stroke-width="1.2"/>
<line x1="404.2" y1="217.4" x2="404.2" y2="213.8" stroke="#222" stroke-width="1.2"/>
<line x1="424.6" y1="217.4" x2="424.6" y2="213.8" stroke="#222" stroke-width="1.2"/>
<line x1="445.2" y1="217.4" x2="445.2" y2="213.8" stroke="#222" stroke-width="1.2"/>
<line x1="466.6" y1="217.4" x2="466.6" y2="213.8" stroke="#222" stroke-width="1.2"/>
<text x="355.53" y="219.96" font-size="7.3" text-anchor="start" stroke="#111" stroke-width="0.25" textLength="4.15" lengthAdjust="spacingAndGlyphs">0</text>
<text x="349.3" y="204.3" font-size="7.3" text-anchor="start" stroke="#111" stroke-width="0.25" textLength="10.37" lengthAdjust="spacingAndGlyphs">0.2</text>
<text x="349.04" y="188.64" font-size="7.3" text-anchor="start" stroke="#111" stroke-width="0.25" textLength="10.37" lengthAdjust="spacingAndGlyphs">0.4</text>
<text x="349.26" y="172.98" font-size="7.3" text-anchor="start" stroke="#111" stroke-width="0.25" textLength="10.37" lengthAdjust="spacingAndGlyphs">0.6</text>
<text x="349.23" y="157.31" font-size="7.3" text-anchor="start" stroke="#111" stroke-width="0.25" textLength="10.37" lengthAdjust="spacingAndGlyphs">0.8</text>
<text x="355.42" y="141.66" font-size="7.3" text-anchor="start" stroke="#111" stroke-width="0.25" textLength="4.15" lengthAdjust="spacingAndGlyphs">1</text>
<rect x="368.15" y="210" width="11.9" height="7.4" fill="#7e7e7e" stroke="#525252" stroke-width="1"/>
<line x1="374.1" y1="209.5" x2="374.1" y2="208.6" stroke="#666" stroke-width="1.0"/>
<line x1="370.88" y1="208.6" x2="377.33" y2="208.6" stroke="#666" stroke-width="1.1"/>
<rect x="388.85" y="210" width="11.9" height="7.4" fill="#7e7e7e" stroke="#525252" stroke-width="1"/>
<line x1="394.8" y1="209.5" x2="394.8" y2="208.6" stroke="#666" stroke-width="1.0"/>
<line x1="391.57" y1="208.6" x2="398.03" y2="208.6" stroke="#666" stroke-width="1.1"/>
<rect x="409" y="209" width="12" height="8.4" fill="#7e7e7e" stroke="#525252" stroke-width="1"/>
<line x1="415" y1="208.5" x2="415" y2="207.6" stroke="#666" stroke-width="1.0"/>
<line x1="411.75" y1="207.6" x2="418.25" y2="207.6" stroke="#666" stroke-width="1.1"/>
<rect x="429.8" y="182.6" width="12" height="34.8" fill="#7e7e7e" stroke="#525252" stroke-width="1"/>
<line x1="435.8" y1="182.1" x2="435.8" y2="177.7" stroke="#666" stroke-width="1.0"/>
<line x1="432.55" y1="177.7" x2="439.05" y2="177.7" stroke="#666" stroke-width="1.1"/>
<rect x="450.2" y="155.8" width="12.2" height="61.6" fill="#7e7e7e" stroke="#525252" stroke-width="1"/>
<line x1="456.3" y1="155.3" x2="456.3" y2="147.9" stroke="#666" stroke-width="1.0"/>
<line x1="453" y1="147.9" x2="459.6" y2="147.9" stroke="#666" stroke-width="1.1"/>
<text x="372.2" y="220.02" font-size="7.4" text-anchor="start" stroke="#111" stroke-width="0.4" transform="rotate(90 372.2 220.02)" textLength="34.44" lengthAdjust="spacingAndGlyphs">(-)Control</text>
<text x="392.6" y="219.96" font-size="7.4" text-anchor="start" stroke="#111" stroke-width="0.4" transform="rotate(90 392.6 219.96)" textLength="45.86" lengthAdjust="spacingAndGlyphs">PolyP (2.5 μM)</text>
<text x="404.86" y="225.93" font-size="6.93" text-anchor="start" stroke="#111" stroke-width="0.25" textLength="16.89" lengthAdjust="spacingAndGlyphs">+0.22</text>
<text x="425.36" y="225.93" font-size="6.93" text-anchor="start" stroke="#111" stroke-width="0.25" textLength="17.06" lengthAdjust="spacingAndGlyphs">+0.44</text>
<text x="446.25" y="225.93" font-size="6.93" text-anchor="start" stroke="#111" stroke-width="0.25" textLength="17.26" lengthAdjust="spacingAndGlyphs">+0.89</text>
<line x1="404.6" y1="227.1" x2="464" y2="227.1" stroke="#808080" stroke-width="0.9"/>
<text x="414.63" y="234.43" font-size="7.93" text-anchor="start" stroke="#111" stroke-width="0.25" textLength="28.11" lengthAdjust="spacingAndGlyphs">H4 (μM)</text>
<text x="347.72" y="130.8" font-size="12.61" text-anchor="start" stroke="#111" stroke-width="0.3">F</text>
<line x1="376.2" y1="175.6" x2="421" y2="175.6" stroke="#1b1b1b" stroke-width="1.25"/>
<polyline points="398.8,175.6 398.8,171.9 438,171.9 438,175.6" fill="none" stroke="#1b1b1b" stroke-width="1.25"/>
<polygon points="414.55,165 415.28,166.24 416.72,166.25 416,167.5 416.72,168.75 415.28,168.76 414.55,170 413.82,168.76 412.38,168.75 413.1,167.5 412.38,166.25 413.82,166.24" fill="#0c0c0c" stroke="#0c0c0c" stroke-width="0.3" stroke-linejoin="round"/>
<polygon points="420.05,165 420.78,166.24 422.22,166.25 421.5,167.5 422.22,168.75 420.78,168.76 420.05,170 419.32,168.76 417.88,168.75 418.6,167.5 417.88,166.25 419.32,166.24" fill="#0c0c0c" stroke="#0c0c0c" stroke-width="0.3" stroke-linejoin="round"/>
<line x1="373.4" y1="135.6" x2="418.8" y2="135.6" stroke="#1b1b1b" stroke-width="1.25"/>
<polyline points="394.4,135.6 394.4,132.5 454.1,132.5 454.1,135.2" fill="none" stroke="#1b1b1b" stroke-width="1.25"/>
<polygon points="416.8,126.2 417.53,127.44 418.97,127.45 418.25,128.7 418.97,129.95 417.53,129.96 416.8,131.2 416.07,129.96 414.63,129.95 415.35,128.7 414.63,127.45 416.07,127.44" fill="#0c0c0c" stroke="#0c0c0c" stroke-width="0.3" stroke-linejoin="round"/>
<polygon points="422.3,126.2 423.03,127.44 424.47,127.45 423.75,128.7 424.47,129.95 423.03,129.96 422.3,131.2 421.57,129.96 420.13,129.95 420.85,128.7 420.13,127.45 421.57,127.44" fill="#0c0c0c" stroke="#0c0c0c" stroke-width="0.3" stroke-linejoin="round"/>
<polygon points="427.8,126.2 428.53,127.44 429.97,127.45 429.25,128.7 429.97,129.95 428.53,129.96 427.8,131.2 427.07,129.96 425.63,129.95 426.35,128.7 425.63,127.45 427.07,127.44" fill="#0c0c0c" stroke="#0c0c0c" stroke-width="0.3" stroke-linejoin="round"/>
<polyline points="435.2,143.5 435.2,139.2 453.7,139.2 453.7,142.9" fill="none" stroke="#1b1b1b" stroke-width="1.25"/>
<polygon points="445,133.2 445.73,134.44 447.17,134.45 446.45,135.7 447.17,136.95 445.73,136.96 445,138.2 444.27,136.96 442.83,136.95 443.55,135.7 442.83,134.45 444.27,134.44" fill="#0c0c0c" stroke="#0c0c0c" stroke-width="0.3" stroke-linejoin="round"/>
<line x1="26.5" y1="297.5" x2="26.5" y2="382.6" stroke="#222" stroke-width="1.5"/>
<line x1="25.9" y1="382" x2="138.3" y2="382" stroke="#222" stroke-width="1.5"/>
<line x1="26.5" y1="373.55" x2="30.1" y2="373.55" stroke="#222" stroke-width="1.2"/>
<line x1="26.5" y1="365.1" x2="30.1" y2="365.1" stroke="#222" stroke-width="1.2"/>
<line x1="26.5" y1="356.65" x2="30.1" y2="356.65" stroke="#222" stroke-width="1.2"/>
<line x1="26.5" y1="348.2" x2="30.1" y2="348.2" stroke="#222" stroke-width="1.2"/>
<line x1="26.5" y1="339.75" x2="30.1" y2="339.75" stroke="#222" stroke-width="1.2"/>
<line x1="26.5" y1="331.3" x2="30.1" y2="331.3" stroke="#222" stroke-width="1.2"/>
<line x1="26.5" y1="322.85" x2="30.1" y2="322.85" stroke="#222" stroke-width="1.2"/>
<line x1="26.5" y1="314.4" x2="30.1" y2="314.4" stroke="#222" stroke-width="1.2"/>
<line x1="26.5" y1="305.95" x2="30.1" y2="305.95" stroke="#222" stroke-width="1.2"/>
<line x1="26.5" y1="297.5" x2="30.1" y2="297.5" stroke="#222" stroke-width="1.2"/>
<line x1="40.4" y1="382" x2="40.4" y2="378.4" stroke="#222" stroke-width="1.2"/>
<line x1="54.2" y1="382" x2="54.2" y2="378.4" stroke="#222" stroke-width="1.2"/>
<line x1="67.8" y1="382" x2="67.8" y2="378.4" stroke="#222" stroke-width="1.2"/>
<line x1="81.6" y1="382" x2="81.6" y2="378.4" stroke="#222" stroke-width="1.2"/>
<line x1="95.5" y1="382" x2="95.5" y2="378.4" stroke="#222" stroke-width="1.2"/>
<line x1="109.4" y1="382" x2="109.4" y2="378.4" stroke="#222" stroke-width="1.2"/>
<line x1="123.3" y1="382" x2="123.3" y2="378.4" stroke="#222" stroke-width="1.2"/>
<line x1="138" y1="382" x2="138" y2="378.4" stroke="#222" stroke-width="1.2"/>
<text x="17.15" y="383.88" font-size="6.8" text-anchor="start" stroke="#111" stroke-width="0.25" textLength="4.02" lengthAdjust="spacingAndGlyphs">0</text>
<text x="11.11" y="366.98" font-size="6.8" text-anchor="start" stroke="#111" stroke-width="0.25" textLength="10.06" lengthAdjust="spacingAndGlyphs">0.2</text>
<text x="10.85" y="350.08" font-size="6.8" text-anchor="start" stroke="#111" stroke-width="0.25" textLength="10.06" lengthAdjust="spacingAndGlyphs">0.4</text>
<text x="11.07" y="333.18" font-size="6.8" text-anchor="start" stroke="#111" stroke-width="0.25" textLength="10.06" lengthAdjust="spacingAndGlyphs">0.6</text>
<text x="11.04" y="316.28" font-size="6.8" text-anchor="start" stroke="#111" stroke-width="0.25" textLength="10.06" lengthAdjust="spacingAndGlyphs">0.8</text>
<text x="17.04" y="299.38" font-size="6.8" text-anchor="start" stroke="#111" stroke-width="0.25" textLength="4.02" lengthAdjust="spacingAndGlyphs">1</text>
<rect x="30.3" y="373.2" width="6.4" height="8.8" fill="#7e7e7e" stroke="#525252" stroke-width="1"/>
<line x1="33.5" y1="372.7" x2="33.5" y2="371.8" stroke="#666" stroke-width="1.0"/>
<line x1="31.65" y1="371.8" x2="35.35" y2="371.8" stroke="#666" stroke-width="1.1"/>
<rect x="44.1" y="307.5" width="6.4" height="74.5" fill="#7e7e7e" stroke="#525252" stroke-width="1"/>
<line x1="47.3" y1="307" x2="47.3" y2="302.3" stroke="#666" stroke-width="1.0"/>
<line x1="45.45" y1="302.3" x2="49.15" y2="302.3" stroke="#666" stroke-width="1.1"/>
<rect x="57.6" y="373.2" width="6.4" height="8.8" fill="#7e7e7e" stroke="#525252" stroke-width="1"/>
<line x1="60.8" y1="372.7" x2="60.8" y2="371.8" stroke="#666" stroke-width="1.0"/>
<line x1="58.95" y1="371.8" x2="62.65" y2="371.8" stroke="#666" stroke-width="1.1"/>
<rect x="71.5" y="309.7" width="6.6" height="72.3" fill="#7e7e7e" stroke="#525252" stroke-width="1"/>
<line x1="74.8" y1="309.2" x2="74.8" y2="305.4" stroke="#666" stroke-width="1.0"/>
<line x1="72.9" y1="305.4" x2="76.7" y2="305.4" stroke="#666" stroke-width="1.1"/>
<rect x="85.5" y="349.5" width="6.4" height="32.5" fill="#7e7e7e" stroke="#525252" stroke-width="1"/>
<line x1="88.7" y1="349" x2="88.7" y2="347" stroke="#666" stroke-width="1.0"/>
<line x1="86.85" y1="347" x2="90.55" y2="347" stroke="#666" stroke-width="1.1"/>
<rect x="99.4" y="373.2" width="6.4" height="8.8" fill="#7e7e7e" stroke="#525252" stroke-width="1"/>
<line x1="102.6" y1="372.7" x2="102.6" y2="371.8" stroke="#666" stroke-width="1.0"/>
<line x1="100.75" y1="371.8" x2="104.45" y2="371.8" stroke="#666" stroke-width="1.1"/>
<rect x="113.3" y="373.2" width="6.4" height="8.8" fill="#7e7e7e" stroke="#525252" stroke-width="1"/>
<line x1="116.5" y1="372.7" x2="116.5" y2="371.8" stroke="#666" stroke-width="1.0"/>
<line x1="114.65" y1="371.8" x2="118.35" y2="371.8" stroke="#666" stroke-width="1.1"/>
<rect x="127" y="373.2" width="6.4" height="8.8" fill="#7e7e7e" stroke="#525252" stroke-width="1"/>
<line x1="130.2" y1="372.7" x2="130.2" y2="371.8" stroke="#666" stroke-width="1.0"/>
<line x1="128.35" y1="371.8" x2="132.05" y2="371.8" stroke="#666" stroke-width="1.1"/>
<text x="31" y="384.16" font-size="7.4" text-anchor="start" stroke="#111" stroke-width="0.4" transform="rotate(90 31 384.16)" textLength="30.74" lengthAdjust="spacingAndGlyphs">(-)Control</text>
<text x="43.9" y="384.26" font-size="7.4" text-anchor="start" stroke="#111" stroke-width="0.4" transform="rotate(90 43.9 384.26)" textLength="48.66" lengthAdjust="spacingAndGlyphs">HMGB1(40 nM)</text>
<text x="59.1" y="384.46" font-size="7.4" text-anchor="start" stroke="#111" stroke-width="0.4" transform="rotate(90 59.1 384.46)" textLength="47.25" lengthAdjust="spacingAndGlyphs">sRAGE(40 nM)</text>
<text x="70.86" y="392.12" font-size="6.36" text-anchor="start" stroke="#111" stroke-width="0.25" textLength="8.44" lengthAdjust="spacingAndGlyphs">20</text>
<text x="86.02" y="392.12" font-size="6.36" text-anchor="start" stroke="#111" stroke-width="0.25" textLength="7.75" lengthAdjust="spacingAndGlyphs">40</text>
<text x="98.43" y="392.12" font-size="6.36" text-anchor="start" stroke="#111" stroke-width="0.25" textLength="7.11" lengthAdjust="spacingAndGlyphs">80</text>
<text x="110.59" y="392.12" font-size="6.36" text-anchor="start" stroke="#111" stroke-width="0.25" textLength="11.07" lengthAdjust="spacingAndGlyphs">160</text>
<text x="123.82" y="392.12" font-size="6.36" text-anchor="start" stroke="#111" stroke-width="0.25" textLength="13.71" lengthAdjust="spacingAndGlyphs">320</text>
<line x1="71" y1="392.7" x2="138" y2="392.7" stroke="#808080" stroke-width="0.9"/>
<text x="89.36" y="400.43" font-size="6.93" text-anchor="start" stroke="#111" stroke-width="0.25" textLength="43.98" lengthAdjust="spacingAndGlyphs">sRAGE (nM)</text>
<text x="6.2" y="373.81" font-size="6.85" text-anchor="start" stroke="#111" stroke-width="0.25" transform="rotate(-90 6.2 373.81)" textLength="69.41" lengthAdjust="spacingAndGlyphs">Permeability (OD 650)</text>
<text x="-0.29" y="287" font-size="12.03" text-anchor="start" stroke="#111" stroke-width="0.3">G</text>
<polyline points="46,293 46,289.4 120.3,289.4 120.3,293" fill="none" stroke="#1b1b1b" stroke-width="1.25"/>
<line x1="98" y1="293.3" x2="134.6" y2="293.3" stroke="#1b1b1b" stroke-width="1.25"/>
<polygon points="80.5,283.4 81.22,284.64 82.67,284.65 81.95,285.9 82.67,287.15 81.22,287.16 80.5,288.4 79.78,287.16 78.33,287.15 79.05,285.9 78.33,284.65 79.78,284.64" fill="#0c0c0c" stroke="#0c0c0c" stroke-width="0.3" stroke-linejoin="round"/>
<polygon points="86,283.4 86.72,284.64 88.17,284.65 87.45,285.9 88.17,287.15 86.72,287.16 86,288.4 85.28,287.16 83.83,287.15 84.55,285.9 83.83,284.65 85.28,284.64" fill="#0c0c0c" stroke="#0c0c0c" stroke-width="0.3" stroke-linejoin="round"/>
<polygon points="91.5,283.4 92.22,284.64 93.67,284.65 92.95,285.9 93.67,287.15 92.22,287.16 91.5,288.4 90.78,287.16 89.33,287.15 90.05,285.9 89.33,284.65 90.78,284.64" fill="#0c0c0c" stroke="#0c0c0c" stroke-width="0.3" stroke-linejoin="round"/>
<polyline points="46.7,302 46.7,298.2 88.1,298.2 88.1,301.6" fill="none" stroke="#1b1b1b" stroke-width="1.25"/>
<polygon points="66.85,292.5 67.57,293.74 69.02,293.75 68.3,295 69.02,296.25 67.57,296.26 66.85,297.5 66.12,296.26 64.68,296.25 65.4,295 64.68,293.75 66.12,293.74" fill="#0c0c0c" stroke="#0c0c0c" stroke-width="0.3" stroke-linejoin="round"/>
<polygon points="72.35,292.5 73.07,293.74 74.52,293.75 73.8,295 74.52,296.25 73.07,296.26 72.35,297.5 71.62,296.26 70.18,296.25 70.9,295 70.18,293.75 71.62,293.74" fill="#0c0c0c" stroke="#0c0c0c" stroke-width="0.3" stroke-linejoin="round"/>
<polyline points="89,335.3 89,331.3 120.3,331.3 120.3,335.5" fill="none" stroke="#1b1b1b" stroke-width="1.25"/>
<line x1="99" y1="335.9" x2="135.6" y2="335.9" stroke="#1b1b1b" stroke-width="1.25"/>
<polygon points="101.75,324.2 102.47,325.44 103.92,325.45 103.2,326.7 103.92,327.95 102.47,327.96 101.75,329.2 101.03,327.96 99.58,327.95 100.3,326.7 99.58,325.45 101.03,325.44" fill="#0c0c0c" stroke="#0c0c0c" stroke-width="0.3" stroke-linejoin="round"/>
<polygon points="107.25,324.2 107.97,325.44 109.42,325.45 108.7,326.7 109.42,327.95 107.97,327.96 107.25,329.2 106.53,327.96 105.08,327.95 105.8,326.7 105.08,325.45 106.53,325.44" fill="#0c0c0c" stroke="#0c0c0c" stroke-width="0.3" stroke-linejoin="round"/>
<line x1="162.6" y1="301.4" x2="162.6" y2="383" stroke="#222" stroke-width="1.5"/>
<line x1="162" y1="382.4" x2="268.9" y2="382.4" stroke="#222" stroke-width="1.5"/>
<line x1="162.6" y1="366.2" x2="166.2" y2="366.2" stroke="#222" stroke-width="1.2"/>
<line x1="162.6" y1="350" x2="166.2" y2="350" stroke="#222" stroke-width="1.2"/>
<line x1="162.6" y1="333.8" x2="166.2" y2="333.8" stroke="#222" stroke-width="1.2"/>
<line x1="162.6" y1="317.6" x2="166.2" y2="317.6" stroke="#222" stroke-width="1.2"/>
<line x1="162.6" y1="301.4" x2="166.2" y2="301.4" stroke="#222" stroke-width="1.2"/>
<line x1="180.2" y1="382.4" x2="180.2" y2="378.8" stroke="#222" stroke-width="1.2"/>
<line x1="197.9" y1="382.4" x2="197.9" y2="378.8" stroke="#222" stroke-width="1.2"/>
<line x1="215.6" y1="382.4" x2="215.6" y2="378.8" stroke="#222" stroke-width="1.2"/>
<line x1="233.3" y1="382.4" x2="233.3" y2="378.8" stroke="#222" stroke-width="1.2"/>
<line x1="251" y1="382.4" x2="251" y2="378.8" stroke="#222" stroke-width="1.2"/>
<line x1="268.6" y1="382.4" x2="268.6" y2="378.8" stroke="#222" stroke-width="1.2"/>
<text x="153.73" y="385.2" font-size="7.3" text-anchor="start" stroke="#111" stroke-width="0.25" textLength="4.15" lengthAdjust="spacingAndGlyphs">0</text>
<text x="147.39" y="369" font-size="7.3" text-anchor="start" stroke="#111" stroke-width="0.25" textLength="10.37" lengthAdjust="spacingAndGlyphs">0.1</text>
<text x="147.5" y="352.81" font-size="7.3" text-anchor="start" stroke="#111" stroke-width="0.25" textLength="10.37" lengthAdjust="spacingAndGlyphs">0.2</text>
<text x="147.46" y="336.6" font-size="7.3" text-anchor="start" stroke="#111" stroke-width="0.25" textLength="10.37" lengthAdjust="spacingAndGlyphs">0.3</text>
<text x="147.24" y="320.4" font-size="7.3" text-anchor="start" stroke="#111" stroke-width="0.25" textLength="10.37" lengthAdjust="spacingAndGlyphs">0.4</text>
<text x="147.39" y="304.2" font-size="7.3" text-anchor="start" stroke="#111" stroke-width="0.25" textLength="10.37" lengthAdjust="spacingAndGlyphs">0.5</text>
<rect x="167.3" y="365.7" width="8" height="16.7" fill="#7e7e7e" stroke="#525252" stroke-width="1"/>
<line x1="171.3" y1="365.2" x2="171.3" y2="364" stroke="#666" stroke-width="1.0"/>
<line x1="169.05" y1="364" x2="173.55" y2="364" stroke="#666" stroke-width="1.1"/>
<rect x="185" y="318.5" width="8.2" height="63.9" fill="#7e7e7e" stroke="#525252" stroke-width="1"/>
<line x1="189.1" y1="318" x2="189.1" y2="314" stroke="#666" stroke-width="1.0"/>
<line x1="186.8" y1="314" x2="191.4" y2="314" stroke="#666" stroke-width="1.1"/>
<rect x="202.8" y="366" width="8" height="16.4" fill="#7e7e7e" stroke="#525252" stroke-width="1"/>
<line x1="206.8" y1="365.5" x2="206.8" y2="364.4" stroke="#666" stroke-width="1.0"/>
<line x1="204.55" y1="364.4" x2="209.05" y2="364.4" stroke="#666" stroke-width="1.1"/>
<rect x="220.5" y="317.7" width="8" height="64.7" fill="#7e7e7e" stroke="#525252" stroke-width="1"/>
<line x1="224.5" y1="317.2" x2="224.5" y2="313.5" stroke="#666" stroke-width="1.0"/>
<line x1="222.25" y1="313.5" x2="226.75" y2="313.5" stroke="#666" stroke-width="1.1"/>
<rect x="238" y="358.8" width="8" height="23.6" fill="#7e7e7e" stroke="#525252" stroke-width="1"/>
<line x1="242" y1="358.3" x2="242" y2="356.7" stroke="#666" stroke-width="1.0"/>
<line x1="239.75" y1="356.7" x2="244.25" y2="356.7" stroke="#666" stroke-width="1.1"/>
<rect x="255.7" y="365.3" width="8.2" height="17.1" fill="#7e7e7e" stroke="#525252" stroke-width="1"/>
<line x1="259.8" y1="364.8" x2="259.8" y2="363.6" stroke="#666" stroke-width="1.0"/>
<line x1="257.5" y1="363.6" x2="262.1" y2="363.6" stroke="#666" stroke-width="1.1"/>
<text x="171.8" y="385.17" font-size="7.4" text-anchor="start" stroke="#111" stroke-width="0.4" transform="rotate(90 171.8 385.17)" textLength="29.71" lengthAdjust="spacingAndGlyphs">(-)Control</text>
<text x="187.1" y="385.02" font-size="7.4" text-anchor="start" stroke="#111" stroke-width="0.4" transform="rotate(90 187.1 385.02)" textLength="41.03" lengthAdjust="spacingAndGlyphs">H4(1.78 μM)</text>
<text x="204.4" y="383.76" font-size="7.4" text-anchor="start" stroke="#111" stroke-width="0.4" transform="rotate(90 204.4 383.76)" textLength="54.4" lengthAdjust="spacingAndGlyphs">sRAGE(1.78 μM)</text>
<text x="214.74" y="390.52" font-size="6.21" text-anchor="start" stroke="#111" stroke-width="0.25" textLength="18.19" lengthAdjust="spacingAndGlyphs">+0.89</text>
<text x="234.36" y="390.52" font-size="6.21" text-anchor="start" stroke="#111" stroke-width="0.25" textLength="16.92" lengthAdjust="spacingAndGlyphs">+1.78</text>
<text x="255.15" y="390.52" font-size="6.21" text-anchor="start" stroke="#111" stroke-width="0.25" textLength="13.38" lengthAdjust="spacingAndGlyphs">+3.5</text>
<line x1="213.7" y1="391.5" x2="269.1" y2="391.5" stroke="#808080" stroke-width="0.9"/>
<text x="221.66" y="399.12" font-size="7.79" text-anchor="start" stroke="#111" stroke-width="0.25" textLength="44.19" lengthAdjust="spacingAndGlyphs">sRAGE (μM)</text>
<text x="148.26" y="287.3" font-size="12.46" text-anchor="start" stroke="#111" stroke-width="0.3">H</text>
<polyline points="187.4,306.6 187.4,303.1 250.8,303.1 250.8,306.3" fill="none" stroke="#1b1b1b" stroke-width="1.25"/>
<line x1="240.3" y1="306.5" x2="262.3" y2="306.5" stroke="#1b1b1b" stroke-width="1.25"/>
<polygon points="218.45,296 219.17,297.24 220.62,297.25 219.9,298.5 220.62,299.75 219.17,299.76 218.45,301 217.72,299.76 216.28,299.75 217,298.5 216.28,297.25 217.72,297.24" fill="#0c0c0c" stroke="#0c0c0c" stroke-width="0.3" stroke-linejoin="round"/>
<polygon points="223.95,296 224.67,297.24 226.12,297.25 225.4,298.5 226.12,299.75 224.67,299.76 223.95,301 223.22,299.76 221.78,299.75 222.5,298.5 221.78,297.25 223.22,297.24" fill="#0c0c0c" stroke="#0c0c0c" stroke-width="0.3" stroke-linejoin="round"/>
<line x1="287.8" y1="298.3" x2="287.8" y2="380.9" stroke="#222" stroke-width="1.5"/>
<line x1="287.2" y1="380.3" x2="394.3" y2="380.3" stroke="#222" stroke-width="1.5"/>
<line x1="287.8" y1="363.9" x2="291.4" y2="363.9" stroke="#222" stroke-width="1.2"/>
<line x1="287.8" y1="347.5" x2="291.4" y2="347.5" stroke="#222" stroke-width="1.2"/>
<line x1="287.8" y1="331.1" x2="291.4" y2="331.1" stroke="#222" stroke-width="1.2"/>
<line x1="287.8" y1="314.7" x2="291.4" y2="314.7" stroke="#222" stroke-width="1.2"/>
<line x1="287.8" y1="298.3" x2="291.4" y2="298.3" stroke="#222" stroke-width="1.2"/>
<line x1="308.6" y1="380.3" x2="308.6" y2="376.7" stroke="#222" stroke-width="1.2"/>
<line x1="330" y1="380.3" x2="330" y2="376.7" stroke="#222" stroke-width="1.2"/>
<line x1="351.2" y1="380.3" x2="351.2" y2="376.7" stroke="#222" stroke-width="1.2"/>
<line x1="372.4" y1="380.3" x2="372.4" y2="376.7" stroke="#222" stroke-width="1.2"/>
<line x1="394" y1="380.3" x2="394" y2="376.7" stroke="#222" stroke-width="1.2"/>
<text x="278.59" y="383.02" font-size="7.05" text-anchor="start" stroke="#111" stroke-width="0.25" textLength="4.19" lengthAdjust="spacingAndGlyphs">0</text>
<text x="272.19" y="366.62" font-size="7.05" text-anchor="start" stroke="#111" stroke-width="0.25" textLength="10.48" lengthAdjust="spacingAndGlyphs">0.1</text>
<text x="272.3" y="350.22" font-size="7.05" text-anchor="start" stroke="#111" stroke-width="0.25" textLength="10.48" lengthAdjust="spacingAndGlyphs">0.2</text>
<text x="272.26" y="333.82" font-size="7.05" text-anchor="start" stroke="#111" stroke-width="0.25" textLength="10.48" lengthAdjust="spacingAndGlyphs">0.3</text>
<text x="272.04" y="317.42" font-size="7.05" text-anchor="start" stroke="#111" stroke-width="0.25" textLength="10.48" lengthAdjust="spacingAndGlyphs">0.4</text>
<text x="272.19" y="301.02" font-size="7.05" text-anchor="start" stroke="#111" stroke-width="0.25" textLength="10.48" lengthAdjust="spacingAndGlyphs">0.5</text>
<rect x="292.4" y="363.8" width="11" height="16.5" fill="#7e7e7e" stroke="#525252" stroke-width="1"/>
<line x1="297.9" y1="363.3" x2="297.9" y2="361.8" stroke="#666" stroke-width="1.0"/>
<line x1="294.9" y1="361.8" x2="300.9" y2="361.8" stroke="#666" stroke-width="1.1"/>
<rect x="313.25" y="303.8" width="11.3" height="76.5" fill="#7e7e7e" stroke="#525252" stroke-width="1"/>
<line x1="318.9" y1="303.3" x2="318.9" y2="297.2" stroke="#666" stroke-width="1.0"/>
<line x1="315.82" y1="297.2" x2="321.97" y2="297.2" stroke="#666" stroke-width="1.1"/>
<rect x="335.2" y="363.8" width="10.8" height="16.5" fill="#7e7e7e" stroke="#525252" stroke-width="1"/>
<line x1="340.6" y1="363.3" x2="340.6" y2="362" stroke="#666" stroke-width="1.0"/>
<line x1="337.65" y1="362" x2="343.55" y2="362" stroke="#666" stroke-width="1.1"/>
<rect x="356.5" y="331.8" width="10.8" height="48.5" fill="#7e7e7e" stroke="#525252" stroke-width="1"/>
<line x1="361.9" y1="331.3" x2="361.9" y2="327.5" stroke="#666" stroke-width="1.0"/>
<line x1="358.95" y1="327.5" x2="364.85" y2="327.5" stroke="#666" stroke-width="1.1"/>
<rect x="377.6" y="364.3" width="10.8" height="16" fill="#7e7e7e" stroke="#525252" stroke-width="1"/>
<line x1="383" y1="363.8" x2="383" y2="362.4" stroke="#666" stroke-width="1.0"/>
<line x1="380.05" y1="362.4" x2="385.95" y2="362.4" stroke="#666" stroke-width="1.1"/>
<text x="296.5" y="382.56" font-size="7.4" text-anchor="start" stroke="#111" stroke-width="0.4" transform="rotate(90 296.5 382.56)" textLength="30.53" lengthAdjust="spacingAndGlyphs">(-)Control</text>
<text x="316.9" y="381.71" font-size="7.4" text-anchor="start" stroke="#111" stroke-width="0.4" transform="rotate(90 316.9 381.71)" textLength="52.85" lengthAdjust="spacingAndGlyphs">HMGB1+PolyP</text>
<text x="339.1" y="381.97" font-size="7.4" text-anchor="start" stroke="#111" stroke-width="0.4" transform="rotate(90 339.1 381.97)" textLength="50.96" lengthAdjust="spacingAndGlyphs">sRAGE(1.25 μM)</text>
<text x="348.51" y="388.52" font-size="7.07" text-anchor="start" stroke="#111" stroke-width="0.25" textLength="19.97" lengthAdjust="spacingAndGlyphs">+1.25</text>
<text x="371.83" y="388.52" font-size="7.07" text-anchor="start" stroke="#111" stroke-width="0.25" textLength="18.43" lengthAdjust="spacingAndGlyphs">+2.51</text>
<line x1="346.6" y1="388.9" x2="390.7" y2="388.9" stroke="#808080" stroke-width="0.9"/>
<text x="351.16" y="397.32" font-size="7.79" text-anchor="start" stroke="#111" stroke-width="0.25" textLength="43.98" lengthAdjust="spacingAndGlyphs">sRAGE (μM)</text>
<text x="273.72" y="287.2" font-size="11.16" text-anchor="start" stroke="#111" stroke-width="0.3">I</text>
<polyline points="318.7,288.9 318.7,285.3 383,285.3 383,288.1" fill="none" stroke="#1b1b1b" stroke-width="1.25"/>
<polygon points="353.75,278.8 354.48,280.04 355.92,280.05 355.2,281.3 355.92,282.55 354.48,282.56 353.75,283.8 353.02,282.56 351.58,282.55 352.3,281.3 351.58,280.05 353.02,280.04" fill="#0c0c0c" stroke="#0c0c0c" stroke-width="0.3" stroke-linejoin="round"/>
<polygon points="359.25,278.8 359.98,280.04 361.42,280.05 360.7,281.3 361.42,282.55 359.98,282.56 359.25,283.8 358.52,282.56 357.08,282.55 357.8,281.3 357.08,280.05 358.52,280.04" fill="#0c0c0c" stroke="#0c0c0c" stroke-width="0.3" stroke-linejoin="round"/>
<polyline points="320.5,295.2 320.5,292.6 360.2,292.6 360.2,295.2" fill="none" stroke="#1b1b1b" stroke-width="1.25"/>
<polygon points="341,286.1 341.73,287.34 343.17,287.35 342.45,288.6 343.17,289.85 341.73,289.86 341,291.1 340.27,289.86 338.83,289.85 339.55,288.6 338.83,287.35 340.27,287.34" fill="#0c0c0c" stroke="#0c0c0c" stroke-width="0.3" stroke-linejoin="round"/>
<line x1="413.8" y1="299" x2="413.8" y2="380.6" stroke="#222" stroke-width="1.5"/>
<line x1="413.2" y1="380" x2="518.6" y2="380" stroke="#222" stroke-width="1.5"/>
<line x1="413.8" y1="363.8" x2="417.4" y2="363.8" stroke="#222" stroke-width="1.2"/>
<line x1="413.8" y1="347.6" x2="417.4" y2="347.6" stroke="#222" stroke-width="1.2"/>
<line x1="413.8" y1="331.4" x2="417.4" y2="331.4" stroke="#222" stroke-width="1.2"/>
<line x1="413.8" y1="315.2" x2="417.4" y2="315.2" stroke="#222" stroke-width="1.2"/>
<line x1="413.8" y1="299" x2="417.4" y2="299" stroke="#222" stroke-width="1.2"/>
<line x1="434.2" y1="380" x2="434.2" y2="376.4" stroke="#222" stroke-width="1.2"/>
<line x1="455.2" y1="380" x2="455.2" y2="376.4" stroke="#222" stroke-width="1.2"/>
<line x1="476.3" y1="380" x2="476.3" y2="376.4" stroke="#222" stroke-width="1.2"/>
<line x1="497.6" y1="380" x2="497.6" y2="376.4" stroke="#222" stroke-width="1.2"/>
<line x1="518.1" y1="380" x2="518.1" y2="376.4" stroke="#222" stroke-width="1.2"/>
<text x="404.41" y="382.95" font-size="6.7" text-anchor="start" stroke="#111" stroke-width="0.25" textLength="4.07" lengthAdjust="spacingAndGlyphs">0</text>
<text x="398.2" y="366.75" font-size="6.7" text-anchor="start" stroke="#111" stroke-width="0.25" textLength="10.16" lengthAdjust="spacingAndGlyphs">0.1</text>
<text x="398.31" y="350.55" font-size="6.7" text-anchor="start" stroke="#111" stroke-width="0.25" textLength="10.16" lengthAdjust="spacingAndGlyphs">0.2</text>
<text x="398.27" y="334.35" font-size="6.7" text-anchor="start" stroke="#111" stroke-width="0.25" textLength="10.16" lengthAdjust="spacingAndGlyphs">0.3</text>
<text x="398.05" y="318.15" font-size="6.7" text-anchor="start" stroke="#111" stroke-width="0.25" textLength="10.16" lengthAdjust="spacingAndGlyphs">0.4</text>
<text x="398.2" y="301.95" font-size="6.7" text-anchor="start" stroke="#111" stroke-width="0.25" textLength="10.16" lengthAdjust="spacingAndGlyphs">0.5</text>
<rect x="418.2" y="363.7" width="11" height="16.3" fill="#7e7e7e" stroke="#525252" stroke-width="1"/>
<line x1="423.7" y1="363.2" x2="423.7" y2="361.8" stroke="#666" stroke-width="1.0"/>
<line x1="420.7" y1="361.8" x2="426.7" y2="361.8" stroke="#666" stroke-width="1.1"/>
<rect x="439.3" y="314.6" width="10.8" height="65.4" fill="#7e7e7e" stroke="#525252" stroke-width="1"/>
<line x1="444.7" y1="314.1" x2="444.7" y2="308.3" stroke="#666" stroke-width="1.0"/>
<line x1="441.75" y1="308.3" x2="447.65" y2="308.3" stroke="#666" stroke-width="1.1"/>
<rect x="460.6" y="364.3" width="10.8" height="15.7" fill="#7e7e7e" stroke="#525252" stroke-width="1"/>
<line x1="466" y1="363.8" x2="466" y2="362.6" stroke="#666" stroke-width="1.0"/>
<line x1="463.05" y1="362.6" x2="468.95" y2="362.6" stroke="#666" stroke-width="1.1"/>
<rect x="481.7" y="317.6" width="10.6" height="62.4" fill="#7e7e7e" stroke="#525252" stroke-width="1"/>
<line x1="487" y1="317.1" x2="487" y2="312.4" stroke="#666" stroke-width="1.0"/>
<line x1="484.1" y1="312.4" x2="489.9" y2="312.4" stroke="#666" stroke-width="1.1"/>
<rect x="502.5" y="356.3" width="10.8" height="23.7" fill="#7e7e7e" stroke="#525252" stroke-width="1"/>
<line x1="507.9" y1="355.8" x2="507.9" y2="353.4" stroke="#666" stroke-width="1.0"/>
<line x1="504.95" y1="353.4" x2="510.85" y2="353.4" stroke="#666" stroke-width="1.1"/>
<text x="422.5" y="383.14" font-size="7.4" text-anchor="start" stroke="#111" stroke-width="0.4" transform="rotate(90 422.5 383.14)" textLength="33.1" lengthAdjust="spacingAndGlyphs">(-)Control</text>
<text x="442.5" y="381.72" font-size="7.4" text-anchor="start" stroke="#111" stroke-width="0.4" transform="rotate(90 442.5 381.72)" textLength="34.21" lengthAdjust="spacingAndGlyphs">H4+PolyP</text>
<text x="464.4" y="382.67" font-size="7.4" text-anchor="start" stroke="#111" stroke-width="0.4" transform="rotate(90 464.4 382.67)" textLength="50.66" lengthAdjust="spacingAndGlyphs">sRAGE(1.25 μM)</text>
<text x="478.91" y="388.93" font-size="6.64" text-anchor="start" stroke="#111" stroke-width="0.25" textLength="19.67" lengthAdjust="spacingAndGlyphs">+1.50</text>
<text x="504.45" y="388.93" font-size="6.64" text-anchor="start" stroke="#111" stroke-width="0.25" textLength="7.98" lengthAdjust="spacingAndGlyphs">+3</text>
<line x1="479.1" y1="389.7" x2="512.8" y2="389.7" stroke="#808080" stroke-width="0.9"/>
<text x="480.89" y="398.02" font-size="7.36" text-anchor="start" stroke="#111" stroke-width="0.25" textLength="39.11" lengthAdjust="spacingAndGlyphs">sRAGE (μM)</text>
<text x="400.93" y="287.2" font-size="11.16" text-anchor="start" stroke="#111" stroke-width="0.3">J</text>
<polyline points="444.9,304 444.9,300.8 508.9,300.8 508.9,304" fill="none" stroke="#1b1b1b" stroke-width="1.25"/>
<polygon points="477.05,292.7 477.78,293.94 479.22,293.95 478.5,295.2 479.22,296.45 477.78,296.46 477.05,297.7 476.32,296.46 474.88,296.45 475.6,295.2 474.88,293.95 476.32,293.94" fill="#0c0c0c" stroke="#0c0c0c" stroke-width="0.3" stroke-linejoin="round"/>
<polygon points="482.55,292.7 483.28,293.94 484.72,293.95 484,295.2 484.72,296.45 483.28,296.46 482.55,297.7 481.82,296.46 480.38,296.45 481.1,295.2 480.38,293.95 481.82,293.94" fill="#0c0c0c" stroke="#0c0c0c" stroke-width="0.3" stroke-linejoin="round"/>
</svg></div></body></html>
